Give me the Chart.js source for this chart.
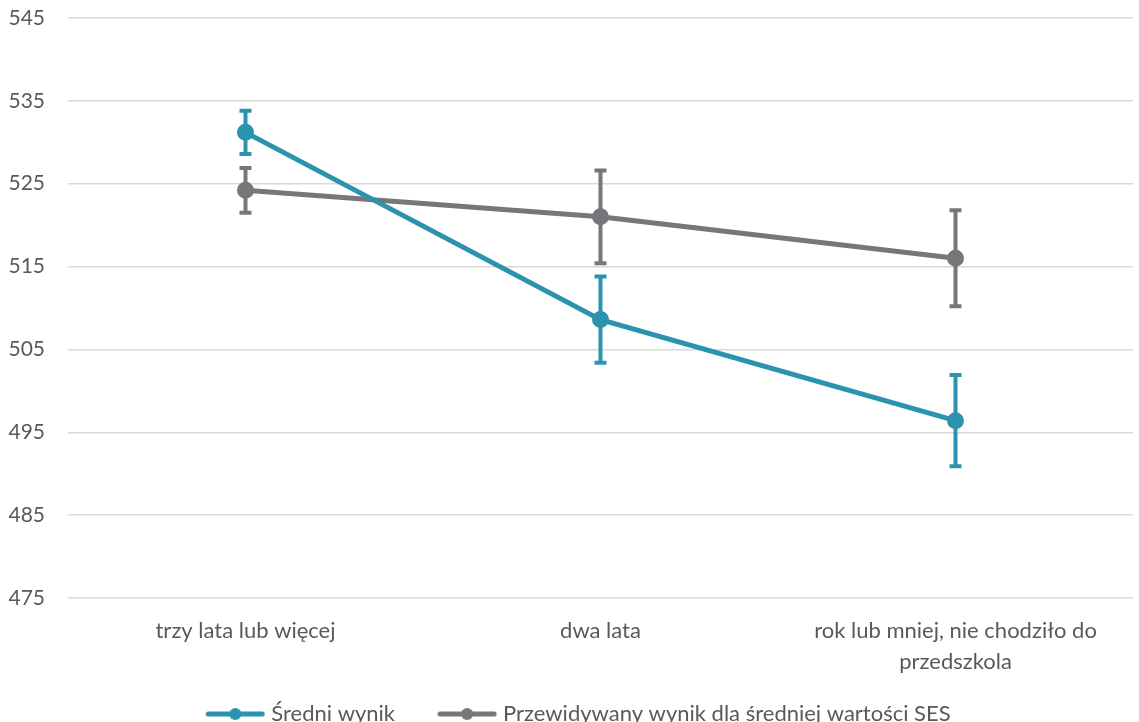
<!DOCTYPE html>
<html>
<head>
<meta charset="utf-8">
<script src="https://cdn.jsdelivr.net/npm/chart.js@4"></script>
<style>
  html, body { margin: 0; padding: 0; background: #fff; }
  #wrap { width: 1139px; height: 722px; }
</style>
</head>
<body>
<div id="wrap"><canvas id="chart"></canvas></div>
<script>
// kategorie i wartości
var kategorie = ['trzy lata lub więcej', 'dwa lata', ['rok lub mniej, nie chodziło do', 'przedszkola']];
var sredniWynik = [531.2, 508.6, 496.4];
var sredniBlad = [2.6, 5.2, 5.5];
var przewidywany = [524.2, 521.0, 516.0];
var przewidywanyBlad = [2.7, 5.6, 5.8];

var NIEBIESKI = '#2b93ad';
var SZARY = '#77777b';
var TEKST = '#595959';

// ikona legendy: linia z kropką
function ikona(kolor) {
  var c = document.createElement('canvas');
  c.width = 60; c.height = 14;
  var g = c.getContext('2d');
  g.strokeStyle = kolor;
  g.lineWidth = 5;
  g.lineCap = 'round';
  g.beginPath(); g.moveTo(3, 7); g.lineTo(57, 7); g.stroke();
  g.fillStyle = kolor;
  g.beginPath(); g.arc(30, 7, 6, 0, Math.PI * 2); g.fill();
  return c;
}

// słupki błędów
var errorBars = {
  id: 'errorBars',
  afterDatasetsDraw: function (chart) {
    var ctx = chart.ctx;
    var y = chart.scales.y;
    chart.data.datasets.forEach(function (ds, i) {
      var meta = chart.getDatasetMeta(i);
      ctx.save();
      ctx.strokeStyle = ds.borderColor;
      meta.data.forEach(function (pt, j) {
        var v = ds.data[j], e = ds.bledy[j];
        var top = y.getPixelForValue(v + e);
        var bot = y.getPixelForValue(v - e);
        ctx.lineWidth = 4;
        ctx.beginPath();
        ctx.moveTo(pt.x, top); ctx.lineTo(pt.x, bot);
        ctx.moveTo(pt.x - 6, top); ctx.lineTo(pt.x + 6, top);
        ctx.moveTo(pt.x - 6, bot); ctx.lineTo(pt.x + 6, bot);
        ctx.stroke();
      });
      ctx.restore();
    });
  }
};

// legenda trochę w prawo
var przesunLegende = {
  id: 'przesunLegende',
  afterLayout: function (chart) {
    chart.legend.left = 28;
  }
};

var ctx = document.getElementById('chart');
var chart = new Chart(ctx, {
  type: 'line',
  data: {
    labels: kategorie,
    datasets: [{
      label: 'Średni wynik',
      data: sredniWynik,
      bledy: sredniBlad,
      borderColor: NIEBIESKI,
      backgroundColor: NIEBIESKI,
      borderWidth: 5,
      pointRadius: 6,
      pointHoverRadius: 6,
      tension: 0
    }, {
      label: 'Przewidywany wynik dla średniej wartości SES',
      data: przewidywany,
      bledy: przewidywanyBlad,
      borderColor: SZARY,
      backgroundColor: SZARY,
      borderWidth: 5,
      pointRadius: 6,
      pointHoverRadius: 6,
      tension: 0
    }]
  },
  options: {
    responsive: true,
    maintainAspectRatio: false,
    animation: false,
    layout: { autoPadding: false, padding: { top: 18, left: 0, right: 6, bottom: -13 } },
    plugins: {
      tooltip: { enabled: false },
      legend: {
        position: 'bottom',
        labels: {
          usePointStyle: true,
          pointStyleWidth: 50,
          padding: 2,
          color: TEKST,
          font: { family: 'Lato', size: 22, lineHeight: 1 },
          generateLabels: function (chart) {
            return chart.data.datasets.map(function (ds, i) {
              return {
                text: i === 0 ? ds.label + '        ' : ds.label,
                pointStyle: ikona(ds.borderColor),
                fillStyle: ds.borderColor,
                strokeStyle: ds.borderColor,
                lineWidth: 0,
                fontColor: TEKST,
                datasetIndex: i
              };
            });
          }
        }
      }
    },
    scales: {
      x: {
        offset: true,
        grid: { display: false },
        border: { display: false },
        ticks: {
          color: TEKST,
          padding: 10,
          maxRotation: 0,
          font: { family: 'Lato', size: 22, lineHeight: 1.4 }
        },
        afterFit: function (s) {
          s.height = 103;
          s.paddingLeft = 0;
          s.paddingRight = 0;
        }
      },
      y: {
        min: 475,
        max: 545,
        ticks: {
          stepSize: 10,
          color: TEKST,
          padding: 23,
          font: { family: 'Lato', size: 21 }
        },
        grid: { color: '#d9d9d9', lineWidth: 1.5, drawTicks: false },
        border: { display: false },
        afterFit: function (s) {
          s.width = 68;
          s.paddingTop = 0;
          s.paddingBottom = 0;
        }
      }
    }
  },
  plugins: [errorBars, przesunLegende]
});
</script>
</body>
</html>
